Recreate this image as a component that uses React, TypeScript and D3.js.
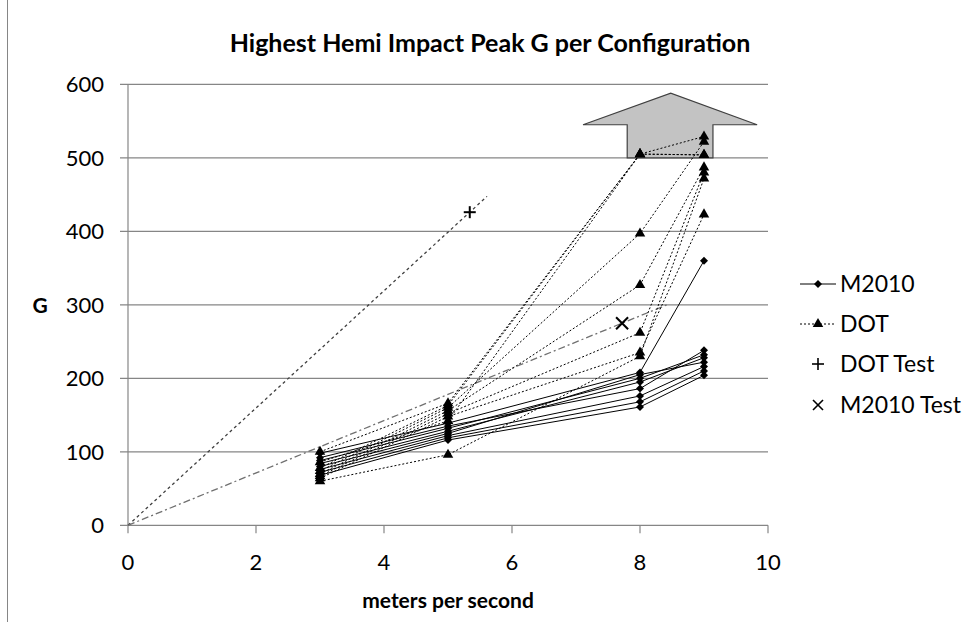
import React from "react";
import * as d3 from "d3";

// impact speeds (m/s) tested for each configuration
const speeds = [3, 5, 8, 9];

// highest hemi impact peak G, one row per configuration
const m2010Series = [
  [98, 139, 208, 360],
  [92, 135, 186, 238],
  [88, 132, 200, 232],
  [84, 128, 195, 228],
  [80, 125, 205, 222],
  [76, 122, 176, 216],
  [72, 119, 168, 210],
  [68, 116, 161, 204],
];

const dotSeries = [
  [60, 96, 230, 472],
  [64, 148, 235, 423],
  [67, 152, 262, 480],
  [70, 156, 327, 487],
  [74, 160, 397, 522],
  [78, 163, 505, 529],
  [86, 142, 505, 504],
  [100, 166, 505, 504],
];

// single test points, each with a linear trendline through the origin
const dotTest = { x: 5.34, y: 426, trendTo: 5.61 };
const m2010Test = { x: 7.72, y: 275, trendTo: 8.44 };

const xTicks = [0, 2, 4, 6, 8, 10];
const yTicks = [0, 100, 200, 300, 400, 500, 600];

// "off scale" block arrow, in data units
const arrowShape: [number, number][] = [
  [7.8, 500], [7.8, 545], [7.11, 545], [8.48, 588],
  [9.83, 545], [9.14, 545], [9.14, 500],
];

const W = 974;
const H = 622;
const font = "Lato, 'Open Sans', sans-serif";

export default function App() {
  const x = d3.scaleLinear().domain([0, 10]).range([128, 768]);
  const y = d3.scaleLinear().domain([0, 600]).range([525.3, 84.3]);

  const line = d3
    .line<number>()
    .x((_, i) => x(speeds[i]))
    .y((d) => y(d));

  const diamond = d3.symbol(d3.symbolSquare, 32)()!;
  const triangle = d3.symbol(d3.symbolTriangle, 48)()!;

  const arrowPath = d3.line<[number, number]>()
    .x((d) => x(d[0]))
    .y((d) => y(d[1]))(arrowShape) + "Z";

  const trend = (t: { x: number; y: number; trendTo: number }) => {
    const slope = t.y / t.x;
    return { x1: x(0), y1: y(0), x2: x(t.trendTo), y2: y(slope * t.trendTo) };
  };
  const tDot = trend(dotTest);
  const tM = trend(m2010Test);

  const legendX = 800;
  const legendRows = [284, 324, 364, 405];

  return (
    <svg
      width={W}
      height={H}
      style={{ position: "absolute", left: 0, top: 0, background: "#fff" }}
      fontFamily={font}
    >
      <line x1={7.5} x2={7.5} y1={0} y2={H} stroke="#868686" />

      <text x={490} y={52} textAnchor="middle" fontSize={25} fontWeight="bold">
        Highest Hemi Impact Peak G per Configuration
      </text>

      {/* grid + y axis */}
      {yTicks.map((t) => (
        <g key={t}>
          <line x1={120} x2={x(10)} y1={y(t)} y2={y(t)} stroke="#868686" strokeWidth={1.2} />
          <text x={104} y={y(t)} dy="0.36em" textAnchor="end" fontSize={22}>
            {t}
          </text>
        </g>
      ))}
      <line x1={x(0)} x2={x(0)} y1={y(600)} y2={y(0)} stroke="#868686" strokeWidth={1.2} />
      {xTicks.map((t) => (
        <g key={t}>
          <line x1={x(t)} x2={x(t)} y1={y(0)} y2={y(0) + 8} stroke="#868686" strokeWidth={1.2} />
          <text x={x(t)} y={570} textAnchor="middle" fontSize={22}>
            {t}
          </text>
        </g>
      ))}

      <text x={448} y={608} textAnchor="middle" fontSize={21} fontWeight="bold">
        meters per second
      </text>
      <text x={40} y={305} dy="0.36em" textAnchor="middle" fontSize={21} fontWeight="bold">
        G
      </text>

      <path d={arrowPath} fill="#c3c3c3" stroke="#404040" strokeWidth={1.2} />

      {/* trendlines of the test points */}
      <line {...tDot} stroke="#404040" strokeWidth={1.3} strokeDasharray="3,3" />
      <line {...tM} stroke="#707070" strokeWidth={1.3} strokeDasharray="7,3,2,3" />

      {m2010Series.map((s, i) => (
        <path key={"m" + i} d={line(s)!} fill="none" stroke="#000" strokeWidth={1} />
      ))}
      {dotSeries.map((s, i) => (
        <path key={"d" + i} d={line(s)!} fill="none" stroke="#000" strokeWidth={1} strokeDasharray="2,2" />
      ))}
      {m2010Series.map((s, i) =>
        s.map((v, j) => (
          <path
            key={"mm" + i + j}
            d={diamond}
            transform={`translate(${x(speeds[j])},${y(v)}) rotate(45)`}
          />
        ))
      )}
      {dotSeries.map((s, i) =>
        s.map((v, j) => (
          <path key={"dm" + i + j} d={triangle} transform={`translate(${x(speeds[j])},${y(v)})`} />
        ))
      )}

      {/* test markers */}
      <g stroke="#000" strokeWidth={2}>
        <line x1={x(dotTest.x) - 6} x2={x(dotTest.x) + 6} y1={y(dotTest.y)} y2={y(dotTest.y)} />
        <line x1={x(dotTest.x)} x2={x(dotTest.x)} y1={y(dotTest.y) - 6} y2={y(dotTest.y) + 6} />
        <line x1={x(m2010Test.x) - 6} x2={x(m2010Test.x) + 6} y1={y(m2010Test.y) - 6} y2={y(m2010Test.y) + 6} />
        <line x1={x(m2010Test.x) - 6} x2={x(m2010Test.x) + 6} y1={y(m2010Test.y) + 6} y2={y(m2010Test.y) - 6} />
      </g>

      {/* legend */}
      <g fontSize={23}>
        <line x1={legendX} x2={legendX + 36} y1={legendRows[0]} y2={legendRows[0]} stroke="#000" />
        <path d={diamond} transform={`translate(${legendX + 18},${legendRows[0]}) rotate(45)`} />
        <text x={840} y={legendRows[0]} dy="0.36em">M2010</text>

        <line x1={legendX} x2={legendX + 36} y1={legendRows[1]} y2={legendRows[1]} stroke="#000" strokeDasharray="2,2" />
        <path d={triangle} transform={`translate(${legendX + 18},${legendRows[1]})`} />
        <text x={840} y={legendRows[1]} dy="0.36em">DOT</text>

        <g stroke="#000" strokeWidth={1.6}>
          <line x1={legendX + 12} x2={legendX + 24} y1={legendRows[2]} y2={legendRows[2]} />
          <line x1={legendX + 18} x2={legendX + 18} y1={legendRows[2] - 6} y2={legendRows[2] + 6} />
          <line x1={legendX + 13} x2={legendX + 23} y1={legendRows[3] - 5} y2={legendRows[3] + 5} />
          <line x1={legendX + 13} x2={legendX + 23} y1={legendRows[3] + 5} y2={legendRows[3] - 5} />
        </g>
        <text x={840} y={legendRows[2]} dy="0.36em">DOT Test</text>
        <text x={840} y={legendRows[3]} dy="0.36em">M2010 Test</text>
      </g>
    </svg>
  );
}
